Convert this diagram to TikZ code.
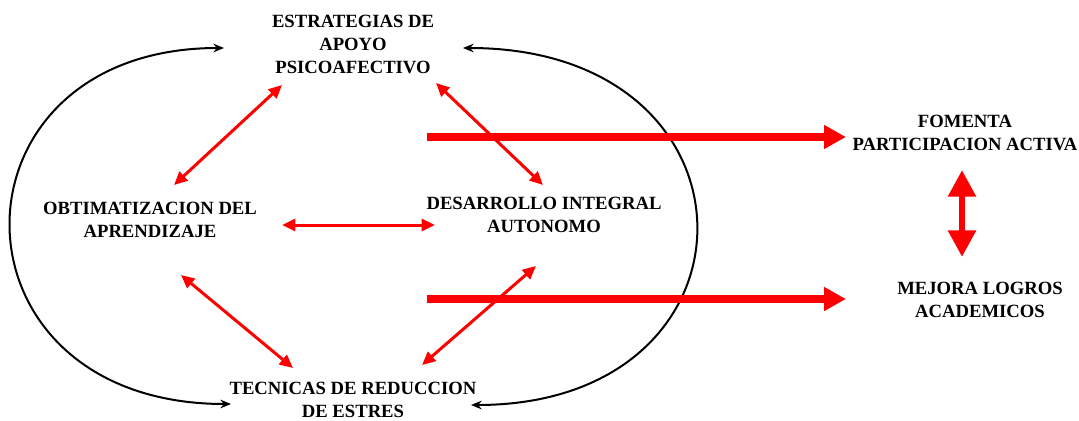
\documentclass[tikz,border=0pt]{standalone}
\usepackage{fontspec}
\setmainfont{Liberation Serif}
\usetikzlibrary{arrows.meta}
\begin{document}
\begin{tikzpicture}[x=0.75pt,y=-0.75pt,
 lbl/.style={font=\bfseries\fontsize{14pt}{17.25pt}\selectfont, align=center, inner sep=0pt},
 thinred/.style={draw=red, line width=2.25pt, {Triangle[length=10pt,width=9pt]}-{Triangle[length=10pt,width=9pt]}},
 thickred/.style={draw=red, line width=5.5pt, -{Triangle[length=16.5pt,width=17pt]}},
 vertred/.style={draw=red, line width=5pt, {Triangle[length=20pt,width=20pt]}-{Triangle[length=20pt,width=20pt]}},
 loopline/.style={draw=black, line width=1.5pt, {Stealth[length=8pt,width=6.5pt]}-{Stealth[length=8pt,width=6.5pt]}}]
\useasboundingbox (0,0) rectangle (1079,421);
\fill[white] (0,0) rectangle (1079,421);

% text nodes
\node[lbl] (est) at (353,44) {ESTRATEGIAS DE\\APOYO\\PSICOAFECTIVO};
\node[lbl] (obt) at (150,220) {OBTIMATIZACION DEL\\APRENDIZAJE};
\node[lbl] (des) at (544,214.5) {DESARROLLO INTEGRAL\\AUTONOMO};
\node[lbl] (tec) at (353,400) {TECNICAS DE REDUCCION\\DE ESTRES};
\node[lbl] (fom) at (965,132.5) {FOMENTA\\PARTICIPACION ACTIVA};
\node[lbl] (mej) at (980,300) {MEJORA LOGROS\\ACADEMICOS};

% endpoints
\coordinate (a1) at (282,85);  \coordinate (a2) at (174,185);
\coordinate (b1) at (436,83);  \coordinate (b2) at (543,185);
\coordinate (c1) at (282,225); \coordinate (c2) at (435,225);
\coordinate (d1) at (181,275); \coordinate (d2) at (293,368);
\coordinate (e1) at (536,266); \coordinate (e2) at (422,365);
\coordinate (f1) at (427,137); \coordinate (f2) at (846,137);
\coordinate (g1) at (427,299); \coordinate (g2) at (846,299);
\coordinate (h1) at (962,170); \coordinate (h2) at (962,257);
\coordinate (l1) at (224,48);  \coordinate (l2) at (231,404);
\coordinate (r1) at (463,48);  \coordinate (r2) at (471,405);

% black loops
\draw[loopline] (l1) .. controls (-61,48) and (-61,404) .. (l2);
\draw[loopline] (r1) .. controls (772,48) and (772,405) .. (r2);

% thick arrows
\draw[thickred] (f1) -- (f2);
\draw[thickred] (g1) -- (g2);
\draw[vertred] (h1) -- (h2);

% thin red arrows
\draw[thinred] (a1) -- (a2);
\draw[thinred] (b1) -- (b2);
\draw[thinred] (c1) -- (c2);
\draw[thinred] (d1) -- (d2);
\draw[thinred] (e1) -- (e2);
\end{tikzpicture}
\end{document}
